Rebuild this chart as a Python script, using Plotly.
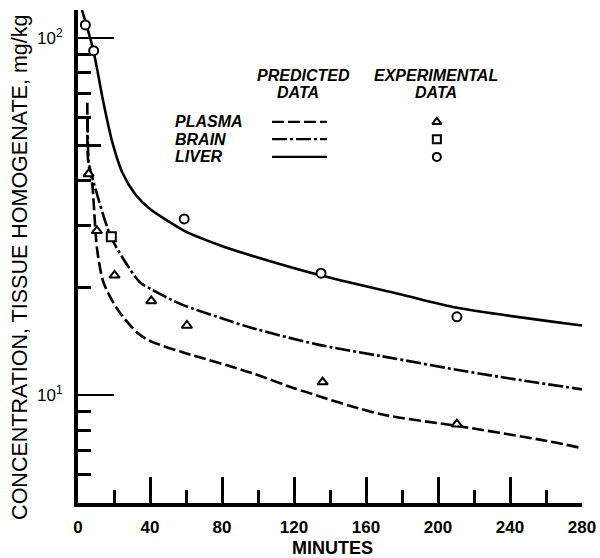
import plotly.graph_objects as go
import math

# ---- Data ----
# Experimental data (minutes, mg/kg)
plasma_t = [5.9, 10.5, 20.3, 40.7, 60.5, 135.9, 210.5]
plasma_c = [41.7, 28.9, 21.7, 18.4, 15.7, 10.9, 8.31]
brain_t = [18.5]
brain_c = [27.8]
liver_t = [4.1, 8.7, 59.0, 135.0, 210.5]
liver_c = [109.0, 92.3, 31.2, 22.0, 16.6]

# Predicted curves
pred_plasma_t = [5.2, 5.7, 7.8, 10.6, 14.2, 21.7, 32.8, 40.2, 58.5, 95.7, 119.6, 168, 210.6, 260.6, 280]
pred_plasma_c = [66, 45, 39.5, 25.7, 20.7, 17.5, 15.0, 14.2, 13.2, 11.6, 10.5, 8.87, 8.22, 7.46, 7.12]
pred_brain_t = [5.4, 6.0, 8.7, 17.9, 25.2, 34.6, 40.2, 51.3, 58.5, 79, 95.7, 132.8, 168, 223.5, 280]
pred_brain_c = [60, 45, 39.5, 28.1, 24.1, 20.7, 19.9, 18.6, 17.9, 16.5, 15.5, 13.9, 12.9, 11.5, 10.4]
pred_liver_t = [2.2, 8.5, 14.1, 19.1, 24.6, 31.8, 40.2, 51.3, 59.1, 79.1, 95.7, 134.6, 179, 210.7, 280]
pred_liver_c = [120, 92.6, 66.2, 51.1, 42.1, 36.6, 33.2, 30.5, 28.9, 26.3, 24.7, 21.7, 19.2, 17.6, 15.7]

series_names = ["PLASMA", "BRAIN", "LIVER"]
x_ticks = [0, 40, 80, 120, 160, 200, 240, 280]
y_major = [10, 100]
y_major_text = ["10<sup>1</sup>", "10<sup>2</sup>"]
y_minor = [6, 7, 8, 9, 20, 30, 40, 60, 70, 80, 90]
y_mid = [50]

# ---- Styles ----
FONT = "Liberation Sans, Arial, sans-serif"
dash_plasma = "12px,4px"
dash_brain = "15px,3px,3px,3px"
LW = 2.6
yr = [math.log10(5), math.log10(120)]

fig = go.Figure()

fig.add_trace(go.Scatter(x=pred_liver_t, y=pred_liver_c, mode="lines", line=dict(color="black", width=LW, shape="spline", smoothing=0.8), showlegend=False))
fig.add_trace(go.Scatter(x=pred_brain_t, y=pred_brain_c, mode="lines", line=dict(color="black", width=LW, dash=dash_brain, shape="spline", smoothing=0.8), showlegend=False))
fig.add_trace(go.Scatter(x=pred_plasma_t, y=pred_plasma_c, mode="lines", line=dict(color="black", width=LW, dash=dash_plasma, shape="spline", smoothing=0.8), showlegend=False))

mk = dict(color="white", size=9, line=dict(color="black", width=2))
fig.add_trace(go.Scatter(x=plasma_t, y=plasma_c, mode="markers", marker=dict(symbol="triangle-up", **mk), showlegend=False))
fig.add_trace(go.Scatter(x=brain_t, y=brain_c, mode="markers", marker=dict(symbol="square", **mk), showlegend=False))
fig.add_trace(go.Scatter(x=liver_t, y=liver_c, mode="markers", marker=dict(symbol="circle", **mk), showlegend=False))

# overlay axis for the medium tick at 50
fig.add_trace(go.Scatter(x=[0], y=[50], mode="markers", marker=dict(opacity=0), yaxis="y3", showlegend=False, hoverinfo="skip"))

# ---- Legend (custom table) on paper-like overlay axes ----
leg_rows_y = [0.773, 0.738, 0.702]
line_x0, line_x1 = 0.385, 0.494
mark_x = 0.712
dashes = [dash_plasma, dash_brain, "solid"]
symbols = ["triangle-up", "square", "circle"]
for i, name in enumerate(series_names):
    fig.add_trace(go.Scatter(x=[line_x0, line_x1], y=[leg_rows_y[i]] * 2, mode="lines",
                             line=dict(color="black", width=2.4, dash=dashes[i]),
                             xaxis="x2", yaxis="y2", showlegend=False, hoverinfo="skip"))
    fig.add_trace(go.Scatter(x=[mark_x], y=[leg_rows_y[i]], mode="markers",
                             marker=dict(symbol=symbols[i], color="white", size=8, line=dict(color="black", width=2)),
                             xaxis="x2", yaxis="y2", showlegend=False, hoverinfo="skip"))

LEG_FONT = dict(size=16, family=FONT, color="black")
annotations = [
    dict(text="CONCENTRATION, TISSUE HOMOGENATE, mg/kg", x=-0.115, y=0.477, textangle=-90,
         font=dict(size=21.5, family=FONT, color="black")),
    dict(text="<b>MINUTES</b>", x=0.504, y=-0.091, font=dict(size=18, family=FONT, color="black")),
    dict(text="<b><i>PREDICTED</i></b>", x=0.448, y=0.868, font=LEG_FONT),
    dict(text="<b><i>DATA</i></b>", x=0.4365, y=0.832, font=LEG_FONT),
    dict(text="<b><i>EXPERIMENTAL</i></b>", x=0.710, y=0.868, font=LEG_FONT),
    dict(text="<b><i>DATA</i></b>", x=0.710, y=0.832, font=LEG_FONT),
]
for i, name in enumerate(series_names):
    annotations.append(dict(text=f"<b><i>{name}</i></b>", x=0.1885, y=leg_rows_y[i], xanchor="left",
                            font=LEG_FONT))
for a in annotations:
    a.update(xref="paper", yref="paper", showarrow=False)
    a.setdefault("xanchor", "center")
    a.setdefault("yanchor", "middle")

fig.update_layout(
    width=600, height=558,
    margin=dict(l=78, r=18, t=10, b=55),
    paper_bgcolor="white", plot_bgcolor="white",
    font=dict(family=FONT, color="black"),
    annotations=annotations,
    xaxis=dict(range=[0, 280], tickvals=x_ticks, ticktext=[f"<b>{v}</b>" for v in x_ticks],
               ticks="inside", ticklen=26, tickwidth=2.5, tickcolor="black", automargin=False,
               minor=dict(dtick=20, tick0=0, ticks="inside", ticklen=13, tickwidth=2.5, tickcolor="black"),
               showline=True, linewidth=4, linecolor="black", showgrid=False, zeroline=False,
               tickfont=dict(size=17, family=FONT, color="black"), ticklabelstandoff=6),
    yaxis=dict(type="log", range=yr, tickvals=y_major, ticktext=y_major_text, automargin=False,
               ticks="inside", ticklen=36, tickwidth=2, tickcolor="black",
               minor=dict(tickvals=y_minor, ticks="inside", ticklen=13, tickwidth=2.5, tickcolor="black"),
               showline=True, linewidth=4, linecolor="black", showgrid=False, zeroline=False,
               tickfont=dict(size=17, family=FONT, color="black"), ticklabelstandoff=8),
    yaxis3=dict(type="log", range=yr, overlaying="y", side="left", tickvals=y_mid, automargin=False,
                ticks="inside", ticklen=23, tickwidth=2.5, tickcolor="black",
                showticklabels=False, showline=False, showgrid=False, zeroline=False),
    xaxis2=dict(range=[0, 1], overlaying="x", visible=False, domain=[0, 1]),
    yaxis2=dict(range=[0, 1], overlaying="y", visible=False),
)
fig.update_traces(cliponaxis=False, selector=dict(mode="markers"))

fig.write_html("out.html", config={"displayModeBar": False},
               post_script="document.body.style.margin='0px';")
